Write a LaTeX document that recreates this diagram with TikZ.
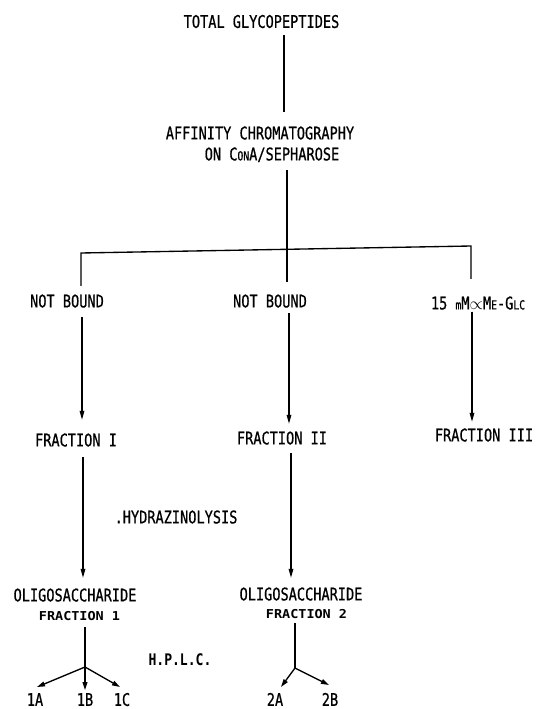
\documentclass[tikz,border=0pt]{standalone}
\usepackage{fontspec}
\setmainfont{DejaVu Sans Mono}[FakeStretch=0.78, FakeBold=0.7]
\newfontfamily\fracf{DejaVu Sans Mono}[FakeStretch=1.1]
\newfontfamily\hplcf{DejaVu Sans Mono}[FakeStretch=0.82]
\usetikzlibrary{arrows.meta}
\newcommand\smc[1]{{\fontsize{12.5}{13}\selectfont #1}}
\tikzset{
  lbl/.style={inner sep=0pt, text height=12.8bp, text depth=0pt, font=\fontsize{17.5}{19}\selectfont},
  boldlbl/.style={inner sep=0pt, text height=9bp, text depth=0pt, font=\fontsize{12.3}{14}\selectfont\fracf\bfseries},
  hplclbl/.style={inner sep=0pt, text height=11.6bp, text depth=0pt, font=\fontsize{16}{18}\selectfont\hplcf\bfseries},
  conn/.style={line width=1.35pt},
  arr/.style={conn, -{Triangle[length=9bp,width=4.6bp]}},
  arrs/.style={conn, -{Triangle[length=8bp,width=4.8bp]}}
}
\begin{document}
\begin{tikzpicture}[x=1bp, y=-1bp]
\useasboundingbox (0,0) rectangle (539,709);
% nodes
\node[lbl] (tot) at (261.5,21.5) {TOTAL GLYCOPEPTIDES};
\node[lbl] (aff1) at (260,133) {AFFINITY CHROMATOGRAPHY};
\node[lbl] (aff2) at (272,154) {ON C\smc{ON}A/SEPHAROSE};
\node[lbl] (nb1) at (67,301) {NOT BOUND};
\node[lbl] (nb2) at (270,301) {NOT BOUND};
\node[lbl] (nb3) at (478,303) {15 \smc{m}M$\propto$M\smc{E}-G\smc{LC}};
\node[lbl] (fr1) at (76,440) {FRACTION I};
\node[lbl] (fr2) at (282,438) {FRACTION II};
\node[lbl] (fr3) at (484,435) {FRACTION III};
\node[lbl] (hyd) at (176,517) {.HYDRAZINOLYSIS};
\node[lbl] (ol1) at (75,595) {OLIGOSACCHARIDE};
\node[boldlbl] (f1) at (79.5,616) {FRACTION 1};
\node[lbl] (ol2) at (301,594) {OLIGOSACCHARIDE};
\node[boldlbl] (f2) at (306.5,614) {FRACTION 2};
\node[hplclbl] (hplc) at (180,660) {H.P.L.C.};
\node[lbl] (l1a) at (35,699.5) {1A};
\node[lbl] (l1b) at (85,699.5) {1B};
\node[lbl] (l1c) at (122,699.5) {1C};
\node[lbl] (l2a) at (275,699.5) {2A};
\node[lbl] (l2b) at (330,699.5) {2B};
% helper coordinates
\coordinate (cx) at (284,0);
\coordinate (jM) at (287,249);
\coordinate (jL) at (81,253);
\coordinate (jR) at (471,246);
\coordinate (colL) at (82,0);
\coordinate (colM) at (289,0);
\coordinate (colR) at (472,0);
\coordinate (colL2) at (83,0);
\coordinate (colM2) at (291,0);
\coordinate (b1) at (85,667);
\coordinate (b2) at (295,668);
\coordinate (t1a) at (37,687);
\coordinate (t1b) at (85,690);
\coordinate (t1c) at (120,687);
\coordinate (t2a) at (281,687);
\coordinate (t2b) at (329,685);
% connectors
\draw[conn, shorten <=7bp, shorten >=14bp] (tot.south -| cx) -- (aff1.north -| cx);
\draw[conn, shorten <=9.6bp, shorten >=12.6bp] (aff2.south -| jM) -- (nb2.north -| jM);
\draw[conn] ([yshift=8.6bp]nb1.north -| jL) -- (jL) -- (jR) -- ([yshift=17.6bp]nb3.north -| jR);
\draw[arr, shorten <=9.6bp, shorten >=13.6bp] (nb1.south -| colL) -- (fr1.north -| colL);
\draw[arr, shorten <=5.6bp, shorten >=7.6bp] (nb2.south -| colM) -- (fr2.north -| colM);
\draw[arr, shorten <=2bp, shorten >=6.6bp] (nb3.south -| colR) -- (fr3.north -| colR);
\draw[arr, shorten <=10.6bp, shorten >=10.6bp] (fr1.south -| colL2) -- (ol1.north -| colL2);
\draw[arr, shorten <=8.6bp, shorten >=9.6bp] (fr2.south -| colM2) -- (ol2.north -| colM2);
\draw[conn, shorten <=6.5bp] (f1.south -| b1) -- (b1);
\draw[conn, shorten <=4.5bp] (f2.south -| b2) -- (b2);
\draw[arrs] (b1) -- (t1a);
\draw[arrs] (b1) -- (t1b);
\draw[arrs] (b1) -- (t1c);
\draw[arrs] (b2) -- (t2a);
\draw[arrs] (b2) -- (t2b);
\end{tikzpicture}
\end{document}
